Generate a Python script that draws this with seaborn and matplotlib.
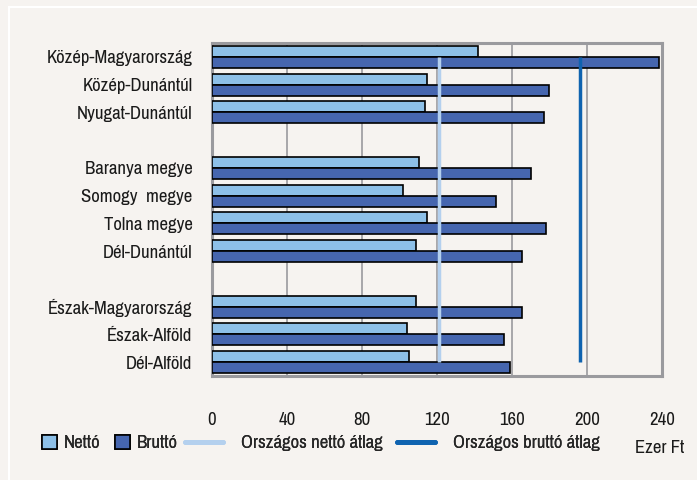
import numpy as np
import pandas as pd
import matplotlib.pyplot as plt
import seaborn as sns
from matplotlib.patches import Rectangle
from matplotlib.lines import Line2D

# data (thousand Ft)
regions = ['Közép-Magyarország', 'Közép-Dunántúl', 'Nyugat-Dunántúl',
           'Baranya megye', 'Somogy  megye', 'Tolna megye', 'Dél-Dunántúl',
           'Észak-Magyarország', 'Észak-Alföld', 'Dél-Alföld']
netto = [141.6, 114.4, 113.4, 110.5, 102.0, 114.4, 108.7, 108.7, 103.9, 104.8]
brutto = [238.3, 179.7, 176.9, 170.1, 151.3, 178.0, 165.3, 165.3, 155.9, 158.9]
netto_avg = 121.2
brutto_avg = 196.1
xticks = [0, 40, 80, 120, 160, 200, 240]

# row order with two blank slots as separators
order = regions[:3] + [' '] + regions[3:7] + ['  '] + regions[7:]

df = pd.DataFrame({
    'region': regions * 2,
    'value': netto + brutto,
    'kind': ['Nettó'] * len(regions) + ['Bruttó'] * len(regions),
})

bg = '#f6f3f0'
c_net = '#8dc0e8'
c_bru = '#4666af'
c_net_avg = '#b4d0ee'
c_bru_avg = '#0f63b0'
fs = 13.5

sns.set_style('white')
plt.rcParams['font.family'] = ['Liberation Sans Narrow', 'Archivo Narrow',
                               'Roboto Condensed', 'Liberation Sans', 'DejaVu Sans']

fig = plt.figure(figsize=(6.97, 4.8), dpi=100, facecolor=bg)
ax = fig.add_axes([0.3042, 0.2167, 0.6456, 0.6937])
ax.set_facecolor(bg)

sns.barplot(data=df, y='region', x='value', hue='kind', order=order,
            hue_order=['Nettó', 'Bruttó'], palette=[c_net, c_bru], saturation=1,
            width=0.8, edgecolor='black', linewidth=1.2, ax=ax,
            legend=False, zorder=3)

ax.vlines(netto_avg, 0, len(order) - 1, color=c_net_avg, lw=2.5, zorder=4)
ax.vlines(brutto_avg, 0, len(order) - 1, color=c_bru_avg, lw=2.5, zorder=4)

ax.set_xlim(0, 240)
ax.set_ylim(len(order) - 0.5, -0.5)
ax.set_xticks(xticks)
ax.set_xticklabels([str(t) for t in xticks])
ax.xaxis.grid(True, color='#9a9a9e', lw=1.2, zorder=0)
ax.set_axisbelow(True)
ax.set_xlabel('')
ax.set_ylabel('')
for s in ax.spines.values():
    s.set_color('#9a9a9e')
    s.set_linewidth(2.2)
ax.tick_params(axis='x', direction='out', length=4, width=1, color='#9a9a9e',
               pad=22, labelsize=fs, labelcolor='#1a1a1a')
ax.tick_params(axis='y', length=0, pad=14, labelsize=fs, labelcolor='#1a1a1a')

# thin white frame around the figure
fig.add_artist(Rectangle((9 / 697, -0.1), 1.2, 1.1 - 7 / 480, transform=fig.transFigure,
                         fill=False, edgecolor='white', lw=1.5))

# legend entries, each anchored where it sits in the reference
leg_y = 1 - 443 / 480
entries = [
    (42, Rectangle((0, 0), 1, 1, facecolor=c_net, edgecolor='black', lw=1.2), 'Nettó', 0.8),
    (115, Rectangle((0, 0), 1, 1, facecolor=c_bru, edgecolor='black', lw=1.2), 'Bruttó', 0.8),
    (185, Line2D([], [], color=c_net_avg, lw=3.5), 'Országos nettó átlag', 2.0),
    (397, Line2D([], [], color=c_bru_avg, lw=3.5), 'Országos bruttó átlag', 2.0),
]
for x0, h, lab, hl in entries:
    pad = 0.35 if hl < 1 else 1.0
    leg = fig.legend([h], [lab], loc='center left', bbox_to_anchor=(x0 / 697, leg_y),
                     frameon=False, handlelength=hl, handleheight=0.75,
                     handletextpad=pad, borderpad=0, borderaxespad=0, fontsize=fs)
    fig.add_artist(leg)
fig.text(660 / 697, 1 - 448 / 480, 'Ezer Ft', ha='center', va='center',
         fontsize=fs, color='#1a1a1a')

fig.savefig('out.png', dpi=100, facecolor=bg)
